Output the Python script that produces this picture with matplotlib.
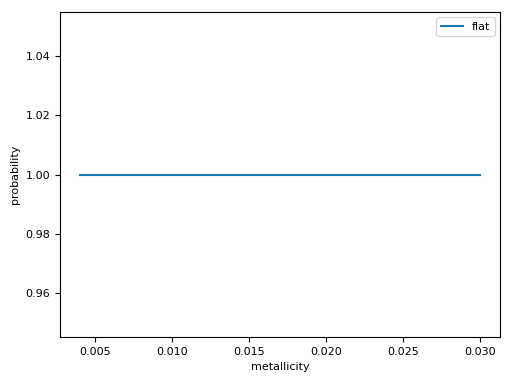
import matplotlib
matplotlib.use("Agg")
import matplotlib.pyplot as plt

# flat metallicity distribution
metallicity = [0.004, 0.03]
probability = [1.0, 1.0]

fig = plt.figure(figsize=(5.12, 3.84), dpi=100)
plt.plot(metallicity, probability, label="flat")
plt.xlabel("metallicity", fontsize=8)
plt.ylabel("probability", fontsize=8)
plt.tick_params(axis="both", labelsize=8)
plt.legend(fontsize=8)
plt.subplots_adjust(left=0.117, right=0.977, top=0.969, bottom=0.122)
plt.savefig("out.png")
